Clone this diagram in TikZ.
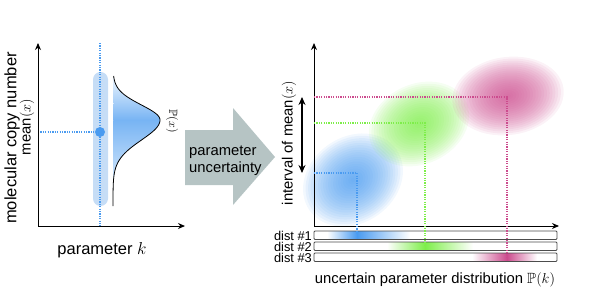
\documentclass[tikz,border=0pt]{standalone}
\usepackage{amsmath}
\usepackage{amssymb}
\usepackage{fontspec}
\setmainfont{Liberation Sans}
\usetikzlibrary{arrows.meta,calc}

\definecolor{kblue}{HTML}{4A9BF0}
\definecolor{kgreen}{HTML}{7EEE4A}
\definecolor{kpink}{HTML}{CC4C8E}
\definecolor{barblue}{HTML}{C6DDF6}
\definecolor{arrowgray}{HTML}{B6C4C4}
\newcommand{\fslarge}{\fontsize{16.5}{18}\selectfont}
\newcommand{\fsmid}{\fontsize{14.8}{17}\selectfont}
\newcommand{\fssmall}{\fontsize{12.8}{11}\selectfont}

\tikzstyle{axis} = [line width=1pt, {Stealth[length=7pt,width=6pt]}-{Stealth[length=7pt,width=6pt]}]
\tikzstyle{dot} = [line width=1.2pt, dash pattern=on 1.2pt off 1.2pt]
\tikzstyle{end} = [circle, minimum width=10pt, fill=kblue, inner sep=0pt]
\tikzstyle{bar} = [draw=black!70, line width=0.8pt, rounded corners=1pt]

\begin{document}
\begin{tikzpicture}[x=1pt,y=-1pt]
\useasboundingbox (0,0) rectangle (599,292);

% left panel
\coordinate (o1) at (38,226);
\coordinate (y1) at (38,43);
\coordinate (x1) at (185,226);
\coordinate (ktop) at (100,43);
\coordinate (kbot) at (100,226);
\fill[barblue, rounded corners=7.5pt] (93,72) rectangle (108,206);
\begin{scope}
  \clip plot[variable=\t, domain=76:120, samples=40] ({113+47*exp(-((\t-120)^2)/450)},{\t})
     -- plot[variable=\t, domain=120:206, samples=60] ({113+47*exp(-((\t-120)^2)/800)},{\t}) -- cycle;
  \shade[top color=kblue!8, bottom color=kblue!75] (112,75) rectangle (162,120);
  \shade[top color=kblue!75, bottom color=kblue!5] (112,120) rectangle (162,207);
\end{scope}
\draw[line width=0.8pt] plot[variable=\t, domain=76:120, samples=40] ({113+47*exp(-((\t-120)^2)/450)},{\t})
     -- plot[variable=\t, domain=120:206, samples=60] ({113+47*exp(-((\t-120)^2)/800)},{\t});
\draw[dot, kblue] (ktop) -- (kbot);
\node[end] (mean1) at (100,132) {};
\draw[dot, kblue] (o1 |- mean1) -- (mean1);
\draw[axis] (y1) -- (o1) -- (x1);

\node[rotate=90, font=\fslarge] (ylab1) at (12,138) {molecular copy number};
\node[rotate=90, font=\fsmid] (mlab) at (27,127) {mean$(x)$};
\node[font=\fslarge] (xlab1) at (102,250) {parameter $k$};
\node[rotate=-90, font=\fontsize{12}{13}\selectfont] (plab) at (172,121) {$\mathbb{P}(x)$};

% middle arrow
\fill[arrowgray] (185,130) -- (233,130) -- (233,108) -- (275,157) -- (233,205) -- (233,185) -- (185,185) -- cycle;
\node[align=left, anchor=west, font=\fsmid, inner sep=0pt] (unc) at (189,161) {parameter\\uncertainty};

% right panel
\coordinate (o2) at (314,226);
\coordinate (y2) at (314,43);
\coordinate (x2) at (559,226);
\foreach \cx/\cy/\rx/\ry/\ang/\col in {353/180/53/43/35/kblue, 419/124/52/40/25/kgreen, 508/96/56/39/8/kpink} {
  \begin{scope}[shift={(\cx,\cy)}, rotate=\ang]
    \foreach \s in {1,...,20}
      \fill[\col, opacity=0.075] (0,0) ellipse ({\s*\rx/20} and {\s*\ry/20});
  \end{scope}
}
\draw[axis] (y2) -- (o2) -- (x2);
\coordinate (itop) at (302,97);
\coordinate (ibot) at (302,173);
\draw[line width=1.4pt, {Stealth[length=8pt,width=7pt]}-{Stealth[length=8pt,width=7pt]}] (itop) -- (ibot);
\node[rotate=90, font=\fsmid] (ilab) at (289,143) {interval of mean$(x)$};

\foreach \n/\px/\py/\lo/\hi/\col in {1/357/173/327/410/kblue, 2/425/123/387/473/kgreen, 3/507/97/472/537/kpink} {
  \pgfmathsetmacro{\bt}{220+11*\n}
  \pgfmathsetmacro{\bb}{\bt+8.5}
  \pgfmathsetmacro{\bm}{\bt+4.25}
  \coordinate (c\n) at (\px,\py);
  \coordinate (b\n) at (314,\bm);
  \fill[white] (314,\bt) rectangle (557,\bb);
  \shade[left color=white, right color=\col] (\lo,\bt) rectangle (\px,\bb);
  \shade[left color=\col, right color=white] (\px,\bt) rectangle (\hi,\bb);
  \draw[bar] (314,\bt) rectangle (557,\bb);
  \draw[dot, \col] (o2 |- c\n) -- (c\n) -- (c\n |- b\n);
}
\node[anchor=east, align=right, font=\fssmall, inner sep=0pt] (dlab) at (312,247) {dist \#1\\dist \#2\\dist \#3};

\node[font=\fsmid] (xlab2) at (435,280) {uncertain parameter distribution $\mathbb{P}(k)$};
\end{tikzpicture}
\end{document}
